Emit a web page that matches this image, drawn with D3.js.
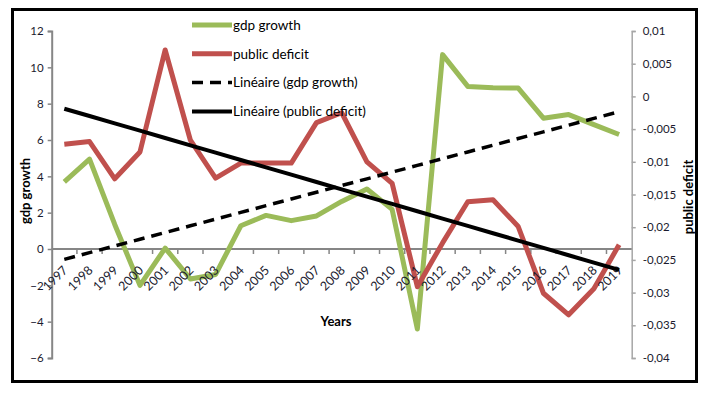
<!DOCTYPE html>
<html lang="en">
<head>
    <meta charset="UTF-8">
    <title>gdp growth and public deficit</title>
    <script src="https://d3js.org/d3.v7.min.js"></script>
    <style>
        body { margin: 0; background: #fff; }
        svg text { font-family: Lato, "Open Sans", sans-serif; }
    </style>
</head>
<body>
    <div id="chart"></div>

    <script>
        // Data
        var years = ["1997", "1998", "1999", "2000", "2001", "2002", "2003", "2004", "2005", "2006", "2007", "2008",
                     "2009", "2010", "2011", "2012", "2013", "2014", "2015", "2016", "2017", "2018", "2019"];
        var gdpGrowth = [3.7, 4.95, 1.35, -2.0, 0.05, -1.65, -1.4, 1.28, 1.85, 1.56, 1.82, 2.62,
                         3.3, 2.18, -4.4, 10.7, 8.95, 8.88, 8.86, 7.2, 7.4, 6.85, 6.3];
        var publicDeficit = [-0.0073, -0.0069, -0.0126, -0.0085, 0.0071, -0.0067, -0.0125, -0.0102, -0.0102, -0.0102, -0.004, -0.0025,
                             -0.01, -0.0133, -0.0291, -0.0224, -0.0161, -0.0158, -0.0199, -0.0301, -0.0334, -0.0294, -0.0227];
        var leftTicks = [-6, -4, -2, 0, 2, 4, 6, 8, 10, 12];
        var rightTicks = [-0.04, -0.035, -0.03, -0.025, -0.02, -0.015, -0.01, -0.005, 0, 0.005, 0.01];
        var rightTickLabels = ["-0,04", "-0,035", "-0,03", "-0,025", "-0,02", "-0,015", "-0,01", "-0,005", "0", "0,005", "0,01"];
        var legendLabels = ["gdp growth", "public deficit", "Linéaire (gdp growth)", "Linéaire (public deficit)"];

        var width = 712, height = 395;
        var green = "#9BBB59", red = "#C0504D", axisGrey = "#868686";

        var svg = d3.select("#chart").append("svg")
            .attr("width", width)
            .attr("height", height);

        // outer frame
        svg.append("rect")
            .attr("x", 12.5).attr("y", 9.5)
            .attr("width", 684).attr("height", 372)
            .attr("fill", "#fff")
            .attr("stroke", "#000")
            .attr("stroke-width", 3);

        var x = d3.scaleBand().domain(years).range([51.7, 631.7]);
        var yL = d3.scaleLinear().domain([-6, 12]).range([358, 31]);
        var yR = d3.scaleLinear().domain([-0.04, 0.01]).range([358, 31]);
        var cx = function(d, i) { return x(years[i]) + x.bandwidth() / 2; };

        // left axis
        var leftAxis = svg.append("g")
            .attr("transform", "translate(51.7,0)")
            .call(d3.axisLeft(yL).tickValues(leftTicks).tickSize(4).tickPadding(4).tickFormat(d3.format("d")));
        leftAxis.select(".domain").attr("stroke", axisGrey).attr("stroke-width", 2);
        leftAxis.selectAll(".tick line").attr("stroke", axisGrey).attr("stroke-width", 1.5);
        leftAxis.selectAll(".tick text").attr("fill", "#1a1a2e").attr("font-size", 11.5)
            .style("font-family", "Lato, sans-serif");

        // right axis
        var rightAxis = svg.append("g")
            .attr("transform", "translate(631.7,0)")
            .call(d3.axisRight(yR).tickValues(rightTicks).tickSize(4).tickPadding(7)
                .tickFormat(function(d, i) { return rightTickLabels[i]; }));
        rightAxis.select(".domain").attr("stroke", "#a6a6a6").attr("stroke-width", 1.5);
        rightAxis.selectAll(".tick line").attr("stroke", "#a6a6a6").attr("stroke-width", 1.5);
        rightAxis.selectAll(".tick text").attr("fill", "#1a1a2e").attr("font-size", 11.5)
            .style("font-family", "Lato, sans-serif");

        // category axis at gdp = 0, ticks between categories
        var y0 = yL(0);
        var xAxis = svg.append("g");
        xAxis.append("line")
            .attr("x1", x.range()[0]).attr("x2", x.range()[1])
            .attr("y1", y0).attr("y2", y0)
            .attr("stroke", axisGrey).attr("stroke-width", 2);
        xAxis.selectAll("line.tick")
            .data(years.slice(1))
            .enter().append("line")
            .attr("class", "tick")
            .attr("x1", function(d) { return x(d); })
            .attr("x2", function(d) { return x(d); })
            .attr("y1", y0).attr("y2", y0 + 5)
            .attr("stroke", axisGrey).attr("stroke-width", 1.5);

        // series lines
        var lineL = d3.line().x(cx).y(function(d) { return yL(d); });
        var lineR = d3.line().x(cx).y(function(d) { return yR(d); });

        svg.append("path").datum(gdpGrowth)
            .attr("d", lineL)
            .attr("fill", "none").attr("stroke", green).attr("stroke-width", 5)
            .attr("stroke-linejoin", "round");

        svg.append("path").datum(publicDeficit)
            .attr("d", lineR)
            .attr("fill", "none").attr("stroke", red).attr("stroke-width", 5)
            .attr("stroke-linejoin", "round");

        // year labels sit over the series
        svg.append("g").selectAll("text")
            .data(years)
            .enter().append("text")
            .attr("transform", function(d, i) { return "translate(" + (cx(d, i) + 1) + "," + (y0 + 19) + ") rotate(-45)"; })
            .attr("text-anchor", "end")
            .attr("dy", "0.35em")
            .attr("font-size", 12.5)
            .attr("fill", "#1a1a2e")
            .text(function(d) { return d; });

        // linear trend lines (least squares on the category index)
        function linearFit(values) {
            var mx = d3.mean(values, function(d, i) { return i; });
            var my = d3.mean(values);
            var sxy = d3.sum(values, function(d, i) { return (i - mx) * (d - my); });
            var sxx = d3.sum(values, function(d, i) { return (i - mx) * (i - mx); });
            var b = sxy / sxx, a = my - b * mx;
            return values.map(function(d, i) { return a + b * i; });
        }

        var gdpTrend = linearFit(gdpGrowth);
        var deficitTrend = linearFit(publicDeficit);

        svg.append("path").datum(gdpTrend)
            .attr("d", lineL)
            .attr("fill", "none").attr("stroke", "#000").attr("stroke-width", 3.5)
            .attr("stroke-dasharray", "11,7");

        svg.append("path").datum(deficitTrend)
            .attr("d", lineR)
            .attr("fill", "none").attr("stroke", "#000").attr("stroke-width", 4);

        // axis titles
        svg.append("text")
            .attr("transform", "translate(30,191) rotate(-90)")
            .attr("text-anchor", "middle")
            .attr("font-size", 13).attr("font-weight", "bold")
            .text("gdp growth");

        svg.append("text")
            .attr("transform", "translate(693,197) rotate(-90)")
            .attr("text-anchor", "middle")
            .attr("font-size", 13).attr("font-weight", "bold")
            .text("public deficit");

        svg.append("text")
            .attr("x", 336).attr("y", 326)
            .attr("text-anchor", "middle")
            .attr("font-size", 13).attr("font-weight", "bold")
            .text("Years");

        // legend
        var legendStyles = [
            { color: green, width: 5, dash: null },
            { color: red, width: 5, dash: null },
            { color: "#000", width: 3.5, dash: "11,7" },
            { color: "#000", width: 4, dash: null }
        ];
        var legend = svg.append("g").attr("transform", "translate(192,25)");
        var item = legend.selectAll("g")
            .data(legendLabels)
            .enter().append("g")
            .attr("transform", function(d, i) { return "translate(0," + (i * 28.8) + ")"; });
        item.append("line")
            .attr("x1", 0).attr("x2", 40)
            .attr("stroke", function(d, i) { return legendStyles[i].color; })
            .attr("stroke-width", function(d, i) { return legendStyles[i].width; })
            .attr("stroke-dasharray", function(d, i) { return legendStyles[i].dash; });
        item.append("text")
            .attr("x", 41).attr("dy", "0.35em")
            .attr("font-size", 13.5)
            .text(function(d) { return d; });
    </script>
</body>
</html>
